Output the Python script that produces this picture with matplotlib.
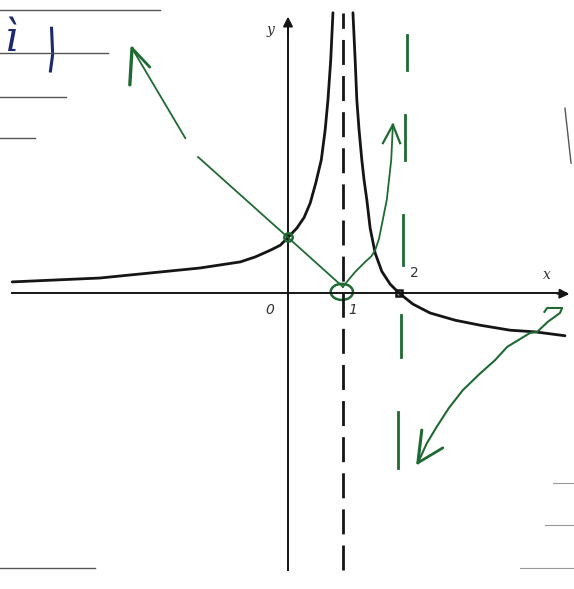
import matplotlib
matplotlib.use("Agg")
import matplotlib.pyplot as plt
from matplotlib.patches import Ellipse

# ---- black graph of f (two branches around the asymptote x = 1) ----
left_x = [-4.97, -3.39, -2.49, -1.59, -0.86, -0.59, -0.32, -0.14, 0.00, 0.16,
          0.29, 0.40, 0.50, 0.60, 0.67, 0.72, 0.77, 0.81]
left_y = [0.20, 0.27, 0.36, 0.45, 0.56, 0.65, 0.77, 0.86, 1.00, 1.17,
          1.36, 1.62, 1.98, 2.40, 2.94, 3.48, 4.20, 5.05]
right_x = [1.17, 1.21, 1.24, 1.28, 1.33, 1.37, 1.42, 1.48, 1.57, 1.69,
           1.84, 2.00, 2.25, 2.56, 3.01, 3.46, 4.00, 4.45, 4.99]
right_y = [5.05, 4.20, 3.48, 2.94, 2.40, 2.04, 1.68, 1.17, 0.72, 0.39,
           0.16, 0.00, -0.20, -0.36, -0.49, -0.58, -0.67, -0.70, -0.77]

# ---- green sketch ----
g_line_x = [-2.81, -1.85, -1.62, 0.00, 0.99]
g_line_y = [4.41, 2.79, 2.45, 1.00, 0.11]
g_rise_x = [0.99, 1.10, 1.21, 1.39, 1.50, 1.57, 1.64, 1.69, 1.78, 1.86, 1.89]
g_rise_y = [0.11, 0.25, 0.38, 0.56, 0.66, 0.77, 0.98, 1.23, 1.68, 2.40, 3.03]
g_low_x = [2.34, 2.50, 2.68, 2.90, 3.15, 3.45, 3.73, 3.95, 4.18, 4.36, 4.49, 4.68, 4.90, 4.94, 4.67, 4.62]
g_low_y = [-3.06, -2.71, -2.41, -2.07, -1.75, -1.46, -1.21, -0.97, -0.83, -0.72, -0.70, -0.52, -0.36, -0.27, -0.27, -0.34]
g_vdash_x = [(2.14, 2.14), (2.11, 2.11), (2.07, 2.07), (2.04, 2.04), (1.98, 1.98)]
g_vdash_y = [(4.65, 4.02), (3.21, 2.40), (1.41, 0.50), (-0.40, -1.15), (-2.14, -3.15)]

# key points
pt_y_int = (0.0, 1.0)
pt_root = (2.0, 0.0)

tick_labels = {"0": (-0.32, -0.31), "1": (1.17, -0.31), "2": (2.27, 0.36)}

GREEN = "#1f6a33"
BLACK = "#151515"

fig = plt.figure(figsize=(5.74, 5.89), dpi=100)
ax = fig.add_axes([0, 0, 1, 1])
ax.set_xlim(-5.189, 5.153)
ax.set_ylim(-5.333, 5.279)
ax.axis("off")

# axes with arrows
ax.plot([-4.97, 5.0], [0, 0], color=BLACK, lw=1.4)
ax.annotate("", xy=(5.12, -0.02), xytext=(4.8, -0.01),
            arrowprops=dict(arrowstyle="-|>", color=BLACK, lw=1.4, mutation_scale=14))
ax.plot([0, 0], [-4.99, 4.8], color=BLACK, lw=1.4)
ax.annotate("", xy=(0, 5.03), xytext=(0, 4.6),
            arrowprops=dict(arrowstyle="-|>", color=BLACK, lw=1.4, mutation_scale=14))
ax.text(-0.31, 4.74, "y", fontsize=10, style="italic", family="DejaVu Serif",
        ha="center", va="center", color="#333333")
ax.text(4.67, 0.32, "x", fontsize=10, style="italic", family="DejaVu Serif",
        ha="center", va="center", color="#333333")
for s, (tx, ty) in tick_labels.items():
    ax.text(tx, ty, s, fontsize=10, style="italic" if s != "2" else "normal",
            family="DejaVu Sans", ha="center", va="center", color="#333333")

# vertical asymptote x = 1
ax.plot([0.99, 0.99], [-4.99, 5.05], color=BLACK, lw=2.0, dashes=(9, 4))

# graph of f
ax.plot(left_x, left_y, color=BLACK, lw=2.0, solid_capstyle="round", solid_joinstyle="round")
ax.plot(right_x, right_y, color=BLACK, lw=2.0, solid_capstyle="round", solid_joinstyle="round")
ax.plot(*pt_y_int, marker="o", ms=6, mfc="none", mec=GREEN, mew=1.8)
ax.plot(*pt_root, marker="s", ms=5, mfc="none", mec=BLACK, mew=1.8)

# green sketch
ax.plot(g_line_x[:2], g_line_y[:2], color=GREEN, lw=1.3)
ax.plot(g_line_x[2:], g_line_y[2:], color=GREEN, lw=1.3)
ax.plot([-2.81, -2.85], [4.41, 3.75], color=GREEN, lw=2.4, solid_capstyle="round")
ax.plot([-2.81, -2.49], [4.41, 4.07], color=GREEN, lw=2.0, solid_capstyle="round")

ax.plot(g_rise_x, g_rise_y, color=GREEN, lw=1.3, solid_joinstyle="round")
ax.plot([1.89, 1.71], [3.03, 2.70], color=GREEN, lw=1.6)
ax.plot([1.89, 2.02], [3.03, 2.70], color=GREEN, lw=1.6)
ax.add_patch(Ellipse((0.97, 0.02), 0.40, 0.29, fill=False, ec=GREEN, lw=1.8))

ax.plot(g_low_x, g_low_y, color=GREEN, lw=1.5, solid_joinstyle="round")
ax.plot([2.34, 2.41], [-3.06, -2.47], color=GREEN, lw=2.2, solid_capstyle="round")
ax.plot([2.34, 2.79], [-3.06, -2.79], color=GREEN, lw=2.0, solid_capstyle="round")

for xs, ys in zip(g_vdash_x, g_vdash_y):
    ax.plot(xs, ys, color=GREEN, lw=2.0)

# handwritten item label and ruled lines at the page edge
ax.text(-5.0, 4.58, "ì", fontsize=30, style="italic", family="DejaVu Serif",
        color="#1b2a6b", ha="center", va="center")
ax.plot([-4.26, -4.24, -4.28], [4.77, 4.30, 4.0], color="#1b2a6b", lw=2.2)
gray = "#555555"
ax.plot([-5.19, -2.31], [5.10, 5.10], color=gray, lw=1.0)
ax.plot([-5.19, -3.24], [4.32, 4.32], color=gray, lw=1.0)
ax.plot([-5.19, -4.0], [3.53, 3.53], color=gray, lw=1.0)
ax.plot([-5.19, -4.56], [2.79, 2.79], color=gray, lw=1.0)
ax.plot([-5.19, -3.48], [-4.95, -4.95], color=gray, lw=1.0)
ax.plot([4.99, 5.10], [3.33, 2.34], color=gray, lw=1.0)
ax.plot([4.78, 5.15], [-3.42, -3.42], color="#999999", lw=0.8)
ax.plot([4.63, 5.15], [-4.18, -4.18], color="#999999", lw=0.8)
ax.plot([4.18, 5.15], [-4.95, -4.95], color="#999999", lw=0.8)

fig.savefig("out.png", dpi=100)
